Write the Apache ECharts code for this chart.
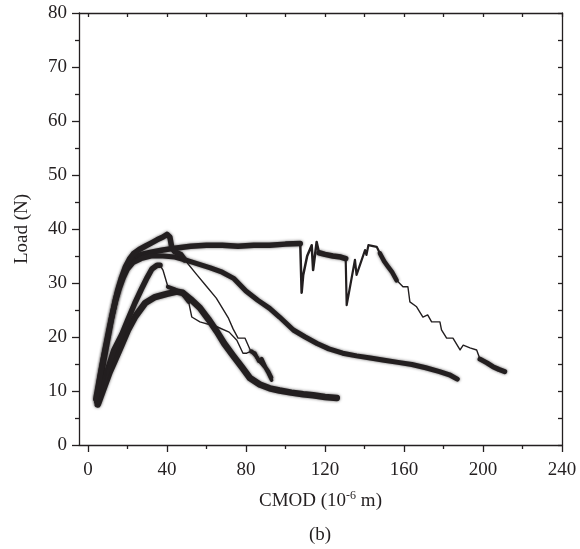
<!DOCTYPE html>
<html>
<head>
<meta charset="utf-8">
<script src="https://cdn.jsdelivr.net/npm/echarts@6/dist/echarts.min.js"></script>
<style>
html,body{margin:0;padding:0;background:#fff;}
#chart{width:580px;height:549px;}
</style>
</head>
<body>
<div id="chart"></div>
<script>
// ---- tick values ----
const xMajorTicks = [0, 40, 80, 120, 160, 200, 240];
const xMinorTicks = [20, 60, 100, 140, 180, 220];
const xAllTicks = [0, 20, 40, 60, 80, 100, 120, 140, 160, 180, 200, 220, 240];

// ---- Specimen A (longest, ends near 211) ----
const A_rise = [[4.5,8],[6,11],[8,15.5],[10,19.5],[12,23.5],[14,27],[16,29.5],[18,31.5],[20,33.2],[23,34.6],[27,35.3],[32,35.7],[38,36.1],[45,36.5],[52,36.8],[60,37],[68,37],[76,36.8],[84,37],[92,37],[100,37.2],[107.5,37.3]];
const A_dip1 = [[107.5,37.3],[108.2,28.2],[109,31.5],[111,35],[113.3,37],[114,32.4],[115.8,37.6],[117,35.6]];
const A_plateau2 = [[117,35.6],[120,35.3],[124,35],[128,34.8],[130.5,34.5]];
const A_dip2 = [[130.5,34.5],[131,25.9],[132.7,29.3],[135.2,34.3],[136,31.5],[140.3,36.1],[141,35.2],[142,37],[146.2,36.7],[147.8,35.5]];
const A_fall1 = [[147.8,35.5],[150,34],[152,33],[154,32],[156.3,30.5]];
const A_fall2 = [[156.3,30.5],[159.5,29.3],[162,29.3],[163,26.5],[166.4,25.6],[169.6,23.7],[172,24.1],[174,22.8],[178.2,22.8],[179,21.3],[181.6,19.8],[184.8,19.8],[188.4,17.6],[190,18.5],[193.4,18],[196.8,17.6],[198.5,15.9]];
const A_end = [[198.5,15.9],[202,15.2],[205,14.5],[208,14],[211,13.6]];

// ---- Specimen B (ends near 187) ----
const B_all = [[4.5,9],[6,12.5],[8,16.5],[10,20],[12,23.5],[14,26.5],[16,29],[18,31],[20,32.5],[23,33.8],[27,34.5],[32,35],[38,35],[44,34.8],[50,34.2],[56,33.5],[62,32.8],[68,32],[74,30.8],[80,28.5],[86,26.8],[92,25.3],[97,23.7],[104,21.3],[110,20],[116,18.8],[122,17.8],[129,17],[136,16.5],[143,16.1],[150,15.7],[157,15.3],[164,14.9],[171,14.3],[178,13.6],[183,13],[187,12.2]];

// ---- Specimen C (lowest peak, ends near 127) ----
const C_all = [[5,7.5],[7,9.5],[9,11.5],[11,13.5],[13.7,15.7],[17,18.5],[20.3,21.3],[24,23.8],[29,26.3],[34,27.4],[40,28],[45,28.4],[48,28.2],[52,27],[56.7,25.4],[61,23.3],[65.3,21],[69,18.8],[73.4,16.6],[78,14.4],[82,12.4],[87,11.2],[92,10.5],[97,10.1],[103,9.7],[109,9.4],[114,9.2],[120,8.9],[126,8.7]];

// ---- Specimen D (peak ~33) ----
const D_rise = [[5,8],[7,10.5],[10,14],[13,17.5],[17.2,20.5],[20,23],[23.8,26.3],[27,28.8],[30,31],[32.4,32.6],[35,33.3],[36.5,33.3]];
const D_drop = [[36.5,33.3],[38,32.4],[40.5,29.3]];
const D_mid = [[40.5,29.3],[44,28.8],[48,28],[51,26.5]];
const D_fall = [[51,26.5],[52.6,23.7],[56.7,22.8],[65.3,21.9],[71.5,20.9],[75.4,19.4],[78.5,17],[80.4,17],[82.8,17.4]];
const D_end = [[82.8,17.4],[85,16.5],[87,15.5],[89.6,14.4],[91,13.5],[93,12]];

// ---- Specimen E (peak ~39) ----
const E_rise = [[4,8.5],[5.5,11.5],[7,14.5],[8.6,17.5],[10.5,21],[12.5,24.5],[15,28.5],[17,31],[19,33],[21,34.4],[23,35.4],[26,36.2],[29,36.8],[32,37.4],[35,38],[38,38.5],[40,39],[41.5,38.5],[42.5,36.5],[44,35.8],[47,35.3],[49,34.3]];
const E_fall = [[49,34.3],[55,31.6],[60,29.4],[65,27.2],[71,23.6],[73.5,21.5],[76,19.8],[79.5,19.8],[82.5,17.3]];
const E_end = [[82.5,17.3],[84.6,17],[86.5,15.5],[88,16],[90,14.4],[91.5,13.6],[93,12.5]];

const INK = '#231f20';
const FONT = '"Liberation Serif", "Times New Roman", serif';

function seg(data, width, fuzzy) {
  const ls = { color: INK, width: width, join: 'round', cap: 'round' };
  if (fuzzy) { ls.shadowBlur = 3; ls.shadowColor = 'rgba(35,31,32,0.7)'; }
  return {
    type: 'line', data: data, xAxisIndex: 0, yAxisIndex: 0,
    showSymbol: false, symbol: 'none', smooth: false, silent: true,
    lineStyle: ls, animation: false
  };
}

const series = [
  seg(A_rise, 5.5, true), seg(A_dip1, 2.5), seg(A_plateau2, 5.5, true), seg(A_dip2, 2.2), seg(A_fall1, 4.5, true), seg(A_fall2, 1.4), seg(A_end, 5, true),
  seg(B_all, 5, true),
  seg(C_all, 6.5, true),
  seg(D_rise, 5.5, true), seg(D_drop, 1.4), seg(D_mid, 4, true), seg(D_fall, 1.4), seg(D_end, 3.5, true),
  seg(E_rise, 5.5, true), seg(E_fall, 1.4), seg(E_end, 3.5, true)
];

const gridPos = { left: 79, right: 18, top: 13, bottom: 104 };
const axisLineStyle = { color: INK, width: 1.3 };

const option = {
  animation: false,
  backgroundColor: '#fff',
  grid: [Object.assign({}, gridPos), Object.assign({}, gridPos)],
  xAxis: [
    {
      type: 'value', gridIndex: 0, position: 'bottom', min: -4.5, max: 240,
      axisLine: { show: true, onZero: false, lineStyle: axisLineStyle },
      axisTick: { show: true, customValues: xMajorTicks, length: 7, lineStyle: axisLineStyle },
      axisLabel: { customValues: xMajorTicks, margin: 16, fontFamily: FONT, fontSize: 19, color: INK },
      splitLine: { show: false },
      name: '{t|CMOD (10}{s|-6}{t| m)}',
      nameLocation: 'middle', nameGap: 45,
      nameTextStyle: {
        rich: {
          t: { fontFamily: FONT, fontSize: 19, color: INK, lineHeight: 22 },
          s: { fontFamily: FONT, fontSize: 12, color: INK, lineHeight: 22, verticalAlign: 'top' }
        }
      }
    },
    {
      type: 'value', gridIndex: 0, position: 'top', min: -4.5, max: 240,
      axisLine: { show: true, onZero: false, lineStyle: axisLineStyle },
      axisTick: { show: true, inside: true, customValues: xAllTicks, length: 4, lineStyle: axisLineStyle },
      axisLabel: { show: false }, splitLine: { show: false }
    },
    {
      type: 'value', gridIndex: 1, position: 'bottom', min: -4.5, max: 240,
      axisLine: { show: false, onZero: false },
      axisTick: { show: true, customValues: xMinorTicks, length: 4, lineStyle: axisLineStyle },
      axisLabel: { show: false }, splitLine: { show: false }
    }
  ],
  yAxis: [
    {
      type: 'value', gridIndex: 0, position: 'left', min: 0, max: 80, interval: 10,
      axisLine: { show: true, onZero: false, lineStyle: axisLineStyle },
      axisTick: { show: true, length: 7, lineStyle: axisLineStyle },
      minorTick: { show: true, splitNumber: 2, length: 4, lineStyle: axisLineStyle },
      axisLabel: { margin: 12, fontFamily: FONT, fontSize: 19, color: INK },
      splitLine: { show: false },
      name: 'Load (N)', nameLocation: 'middle', nameGap: 47, nameRotate: 90,
      nameTextStyle: { fontFamily: FONT, fontSize: 19, color: INK }
    },
    {
      type: 'value', gridIndex: 0, position: 'right', min: 0, max: 80, interval: 5,
      axisLine: { show: true, onZero: false, lineStyle: axisLineStyle },
      axisTick: { show: true, inside: true, length: 4, lineStyle: axisLineStyle },
      axisLabel: { show: false }, splitLine: { show: false }
    },
    {
      type: 'value', gridIndex: 1, min: 0, max: 80, show: false
    }
  ],
  graphic: [
    {
      type: 'text', left: 309, top: 526,
      style: { text: '(b)', font: '19px "Liberation Serif", serif', fill: INK }
    }
  ],
  series: series
};

const chart = echarts.init(document.getElementById('chart'), null, { renderer: 'canvas' });
chart.setOption(option);
</script>
</body>
</html>
